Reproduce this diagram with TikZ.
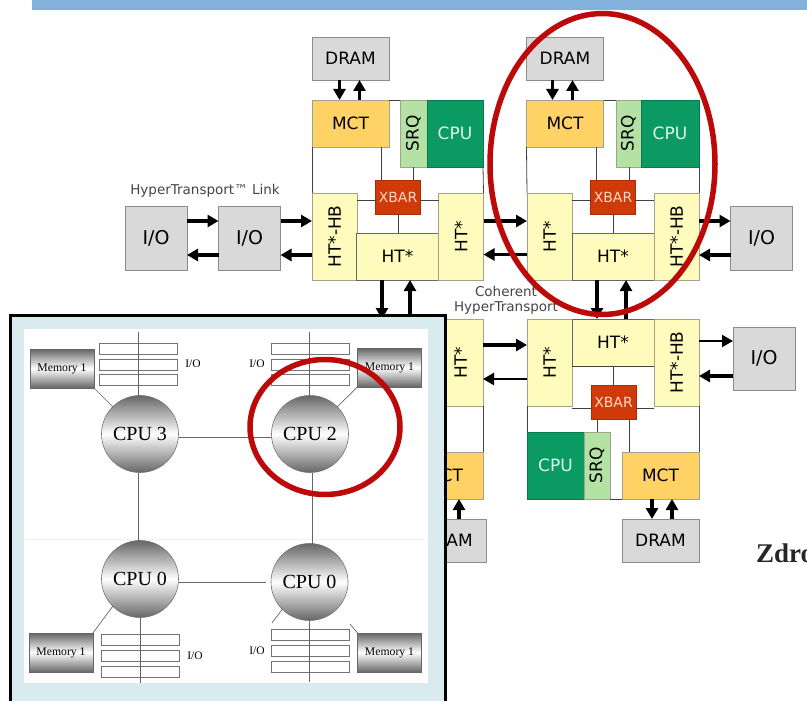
\documentclass[tikz,border=0pt]{standalone}
\usepackage{fontspec}
\setmainfont{DejaVu Sans}
\newfontfamily\panelfont{Liberation Serif}
\usetikzlibrary{calc,arrows.meta}
\definecolor{SlideBlue}{HTML}{82B1DC}
\definecolor{PanelBlue}{HTML}{D9EBEE}
\definecolor{RingRed}{HTML}{BC0A0A}
\definecolor{BoxGray}{HTML}{D9D9D9}
\definecolor{BoxEdge}{HTML}{8C8C8C}
\definecolor{McOrange}{HTML}{FFD266}
\definecolor{SrqGreen}{HTML}{B4E2A4}
\definecolor{CpuGreen}{HTML}{0A9A62}
\definecolor{CpuText}{HTML}{DDF5EE}
\definecolor{XbarRed}{HTML}{D03A08}
\definecolor{XbarText}{HTML}{F8DCC8}
\definecolor{HtYellow}{HTML}{FFFBBC}
\definecolor{HtEdge}{HTML}{A3A38A}
\definecolor{LabelGray}{HTML}{444444}
\tikzset{
  block/.style={draw,outer sep=0pt,inner sep=0pt,font=\fontsize{17}{17}\selectfont,line width=.8pt},
  dram/.style={block,fill=BoxGray,draw=BoxEdge,minimum width=77pt,minimum height=43pt},
  iobox/.style={block,fill=BoxGray,draw=BoxEdge,minimum width=62pt,minimum height=64pt,font=\fontsize{19}{19}\selectfont},
  mct/.style={block,fill=McOrange,draw=HtEdge,minimum width=77pt,minimum height=47pt},
  cpu/.style={block,fill=CpuGreen,draw=CpuGreen!80!black,text=CpuText,minimum height=67pt},
  srq/.style={block,fill=SrqGreen,draw=HtEdge,minimum height=67pt},
  xbar/.style={block,fill=XbarRed,draw=XbarRed!80!black,text=XbarText,minimum width=45pt,minimum height=34pt,font=\fontsize{14}{14}\selectfont},
  htside/.style={block,fill=HtYellow,draw=HtEdge,minimum width=45pt,minimum height=87pt},
  htmid/.style={block,fill=HtYellow,draw=black!60,minimum width=82pt,minimum height=47pt},
  wire/.style={line width=.8pt,black!75},
  bus/.style={line width=3.2pt,-{Triangle[length=11pt,width=12pt]}},
  caption/.style={text=LabelGray,font=\fontsize{13.5}{15}\selectfont,align=center,inner sep=0pt},
  ring/.style={draw=RingRed,line width=5.5pt},
  chip/.style={circle,draw=black!55,line width=.6pt,minimum size=77pt,inner sep=0pt,outer sep=0pt,
    top color=black!60,bottom color=black!60,middle color=white,font=\panelfont\fontsize{20}{20}\selectfont},
  memory/.style={draw=black!60,line width=.6pt,minimum width=64pt,minimum height=39pt,inner sep=0pt,outer sep=0pt,
    top color=black!60,bottom color=black!60,middle color=white,font=\panelfont\fontsize{11.7}{12}\selectfont},
  slot/.style={draw=black!55,fill=white,line width=.6pt,minimum width=78pt,minimum height=11pt,inner sep=0pt,outer sep=0pt},
  iolabel/.style={inner sep=0pt,font=\panelfont\fontsize{11.5}{12}\selectfont},
  link/.style={line width=.7pt,black!60},
}
\begin{document}
\begin{tikzpicture}[x=1pt,y=-1pt,line cap=butt]
  \useasboundingbox (0,0) rectangle (807,701);
  \clip (0,0) rectangle (807,701);
  \fill[SlideBlue] (32,0) rectangle (807,10);
  \node[anchor=base west,inner sep=0pt,text=black!85,font=\panelfont\bfseries\fontsize{27}{27}\selectfont] (source) at (756,562) {Zdro};
  % upper left node
  \begin{scope}
    \node[dram] (dramA) at (350.5,58.5) {DRAM};
    \node[mct] (mctA) at (350.5,123.5) {MCT};
    \node[srq,minimum width=27pt] (srqA) at (413.5,133.5) {\rotatebox{90}{SRQ}};
    \node[cpu,minimum width=56pt] (cpuA) at (455,133.5) {CPU};
    \node[xbar] (xbarA) at (398,197) {XBAR};
    \node[htside] (hbA) at (334.5,236.5) {\rotatebox{90}{HT*-HB}};
    \node[htmid] (htA) at (397.5,256.5) {HT*};
    \node[htside] (hsA) at (461,236.5) {\rotatebox{90}{HT*}};
    \node[iobox] (ioA) at (156,238.5) {I/O};
    \node[iobox] (ioB) at (249.5,238.5) {I/O};
    \node[caption] (linkA) at (205,190.5) {HyperTransport™ Link};
    \draw[bus] ([xshift=-11pt]dramA.south) -- ([xshift=-11pt]mctA.north);
    \draw[bus] ([xshift=9pt]mctA.north) -- ([xshift=9pt]dramA.south);
    \draw[bus] ([yshift=17.5pt]ioA.east) -- ([yshift=17.5pt]ioB.west);
    \draw[bus] ([yshift=-16.5pt]ioB.west) -- ([yshift=-16.5pt]ioA.east);
    \draw[bus] ([yshift=17.5pt]ioB.east) -- ([yshift=17.5pt]ioB.east -| hbA.west);
    \draw[bus] ([yshift=-16.5pt]ioB.east -| hbA.west) -- ([yshift=-16.5pt]ioB.east);
    \draw[wire] (mctA.south west) -- (hbA.north west);
    \draw[wire] (mctA.north east) -- (srqA.north west);
    \draw[wire] ([xshift=-8pt]mctA.south east) -- ([xshift=-8pt]mctA.south east |- xbarA.north);
    \draw[wire] (cpuA.south east) -- (hsA.north east);
    \draw[wire] ([xshift=15pt]xbarA.north) -- ([xshift=15pt]xbarA.north |- srqA.south);
    \draw[wire] ([yshift=-3pt]xbarA.west) -- ([yshift=-3pt]xbarA.west -| hbA.east);
    \draw[wire] ([yshift=-3pt]xbarA.east) -- ([yshift=-3pt]xbarA.east -| hsA.west);
    \draw[wire] (xbarA.south) -- (xbarA.south |- htA.north);
  \end{scope}
  % upper right node
  \begin{scope}
    \node[dram] (dramB) at (565,58.5) {DRAM};
    \node[mct] (mctB) at (565,123.5) {MCT};
    \node[srq,minimum width=25pt] (srqB) at (628.5,133.5) {\rotatebox{90}{SRQ}};
    \node[cpu,minimum width=58pt] (cpuB) at (670,133.5) {CPU};
    \node[xbar] (xbarB) at (613,197) {XBAR};
    \node[htside] (hsB) at (549.5,236.5) {\rotatebox{90}{HT*}};
    \node[htmid] (htB) at (613,256.5) {HT*};
    \node[htside] (hbB) at (676.5,236.5) {\rotatebox{90}{HT*-HB}};
    \node[iobox] (ioE) at (761.5,238) {I/O};
    \draw[bus] ([xshift=-12.5pt]dramB.south) -- ([xshift=-12.5pt]mctB.north);
    \draw[bus] ([xshift=7.5pt]mctB.north) -- ([xshift=7.5pt]dramB.south);
    \draw[bus] ([yshift=15.5pt]hsA.east) -- ([yshift=15.5pt]hsB.west);
    \draw[bus] ([yshift=-18pt]hsB.west) -- ([yshift=-18pt]hsA.east);
    \draw[bus] ([yshift=17pt]ioE.west -| hbB.east) -- ([yshift=17pt]ioE.west);
    \draw[bus] ([yshift=-17pt]ioE.west) -- ([yshift=-17pt]ioE.west -| hbB.east);
    \draw[wire] (mctB.south west) -- (hsB.north west);
    \draw[wire] (mctB.north east) -- (srqB.north west);
    \draw[wire] ([xshift=-7pt]mctB.south east) -- ([xshift=-7pt]mctB.south east |- xbarB.north);
    \draw[wire] (cpuB.south east) -- (hbB.north east);
    \draw[wire] ([xshift=16pt]xbarB.north) -- ([xshift=16pt]xbarB.north |- srqB.south);
    \draw[wire] ([yshift=-3pt]xbarB.west) -- ([yshift=-3pt]xbarB.west -| hsB.east);
    \draw[wire] ([yshift=-3pt]xbarB.east) -- ([yshift=-3pt]xbarB.east -| hbB.west);
    \draw[wire] (xbarB.south) -- (xbarB.south |- htB.north);
  \end{scope}
  % lower left node, mostly under the panel
  \begin{scope}
    \node[htmid] (htC) at (397.5,342.5) {HT*};
    \node[htside] (hsC) at (460.5,362.5) {\rotatebox{90}{HT*}};
    \node[mct] (mctC) at (444.5,475.5) {MCT};
    \node[dram] (dramC) at (447.5,540.5) {DRAM};
    \draw[bus] ([xshift=11.5pt]dramC.north) -- ([xshift=11.5pt]dramC.north |- mctC.south);
    \draw[wire] (hsC.south east) -- (mctC.north east);
    \draw[bus] ([xshift=-15.5pt]htA.south) -- ([xshift=-15.5pt]htC.north);
    \draw[bus] ([xshift=12.5pt]htC.north) -- ([xshift=12.5pt]htA.south);
  \end{scope}
  % lower right node
  \begin{scope}
    \node[htside] (hsD) at (549.5,362.5) {\rotatebox{90}{HT*}};
    \node[htmid] (htD) at (613,342.5) {HT*};
    \node[htside] (hbD) at (676.5,362.5) {\rotatebox{90}{HT*-HB}};
    \node[xbar] (xbarD) at (613.5,402) {XBAR};
    \node[cpu,minimum width=57pt] (cpuD) at (555.5,465.5) {CPU};
    \node[srq,minimum width=26pt] (srqD) at (597,465.5) {\rotatebox{90}{SRQ}};
    \node[mct] (mctD) at (660.5,475.5) {MCT};
    \node[dram] (dramD) at (660.5,540.5) {DRAM};
    \node[iobox,minimum height=63pt] (ioF) at (764,358.5) {I/O};
    \node[caption] (linkB) at (506,300.5) {Coherent\\HyperTransport};
    \draw[bus] ([xshift=-16pt]htB.south) -- ([xshift=-16pt]htD.north);
    \draw[bus] ([xshift=13pt]htD.north) -- ([xshift=13pt]htB.south);
    \draw[bus] ([yshift=17.5pt]hsC.east) -- ([yshift=17.5pt]hsD.west);
    \draw[bus,line width=2.2pt] ([yshift=-16.5pt]hsD.west) -- ([yshift=-16.5pt]hsC.east);
    \draw[bus,line width=2.2pt] ([yshift=17.5pt]ioF.west -| hbD.east) -- ([yshift=17.5pt]ioF.west);
    \draw[bus] ([yshift=-17.5pt]ioF.west) -- ([yshift=-17.5pt]ioF.west -| hbD.east);
    \draw[bus] ([xshift=-8.5pt]mctD.south) -- ([xshift=-8.5pt]dramD.north);
    \draw[bus] ([xshift=11.5pt]dramD.north) -- ([xshift=11.5pt]mctD.south);
    \draw[wire] (hsD.south west) -- (cpuD.north west);
    \draw[wire] (hbD.south east) -- (mctD.north east);
    \draw[wire] (srqD.south east) -- (mctD.south west);
    \draw[wire] ([xshift=6pt]xbarD.south west) -- ([xshift=6pt]xbarD.south west |- srqD.north);
    \draw[wire] ([xshift=-7pt]xbarD.south east) -- ([xshift=-7pt]xbarD.south east |- mctD.north);
    \draw[wire] ([yshift=-6pt]xbarD.west) -- ([yshift=-6pt]xbarD.west -| hsD.east);
    \draw[wire] ([yshift=-6pt]xbarD.east) -- ([yshift=-6pt]xbarD.east -| hbD.west);
    \draw[wire] (xbarD.north) -- (xbarD.north |- htD.south);
    \draw[wire] (htD.south west) -- (htD.south east);
  \end{scope}
  % four socket panel
  \node[draw=black,line width=3pt,fill=PanelBlue,minimum width=435pt,minimum height=410pt,outer sep=0pt] (panel) at (227.5,520) {};
  \node[fill=white,minimum width=404pt,minimum height=354pt,inner sep=0pt,outer sep=0pt] (sheet) at (226,506) {};
  \draw[PanelBlue!50,line width=.5pt] ([yshift=-33pt]sheet.west) -- ([yshift=-33pt]sheet.east);
  \node[chip] (chipC) at (140,434) {CPU 3};
  \node[chip] (chipD) at (310,434) {CPU 2};
  \node[chip] (chipA) at (140,579) {CPU 0};
  \node[chip] (chipB) at (309.5,582) {CPU 0};
  \node[memory] (memA) at (62,368.5) {Memory 1};
  \node[memory] (memB) at (389.5,367.5) {Memory 1};
  \node[memory] (memC) at (61,652.5) {Memory 1};
  \node[memory] (memD) at (389.5,652.5) {Memory 1};
  \node[iolabel] (labA) at (193,364) {I/O};
  \node[iolabel] (labB) at (257,364) {I/O};
  \node[iolabel] (labC) at (195,656) {I/O};
  \node[iolabel] (labD) at (257,651) {I/O};
  \foreach \n/\y in {a/348.5,b/364.5,c/380} {
    \node[slot] (slotA\n) at (138,\y) {};
    \node[slot] (slotB\n) at (310,\y) {};
  }
  \foreach \n/\y in {a/640,b/656,c/672} {
    \node[slot] (slotC\n) at (140,\y) {};
  }
  \foreach \n/\y in {a/634.5,b/650.5,c/666.5} {
    \node[slot] (slotD\n) at (310,\y) {};
  }
  \coordinate (tailA) at (138,332); \coordinate (tailB) at (309.5,332);
  \coordinate (tailC) at (140.5,683); \coordinate (tailD) at (309.5,682);
  \coordinate (stubA) at (272,623); \coordinate (stubB) at (350,624);
  \draw[link] (tailA) -- (tailA |- chipC.north);
  \draw[link] (tailB) -- (tailB |- chipD.north);
  \draw[link] (tailC) -- (tailC |- chipA.south);
  \draw[link] (tailD) -- (tailD |- chipB.south);
  \draw[link] ([yshift=-3pt]chipC.east) -- ([yshift=-3pt]chipD.west);
  \draw[link] ([yshift=-3pt]chipA.east) -- ([xshift=-5pt]chipB.west);
  \draw[link] ([xshift=-2pt]chipC.south) -- ([xshift=-2pt]chipA.north);
  \draw[link] ([xshift=2pt]chipD.south) -- ([xshift=2pt]chipD.south |- chipB.north);
  \draw[link] (memA.south east) -- (chipC.135);
  \draw[link] (memB.south west) -- (chipD.45);
  \draw[link] (memC.north east) -- (chipA.225);
  \draw[link] (chipB.225) -- (stubA);
  \draw[link] (memD.north west) -- (stubB);
  % highlight rings
  \draw[ring] (602.5,164) ellipse[x radius=112.5pt,y radius=150.5pt];
  \draw[ring] (325,427) ellipse[x radius=75pt,y radius=67.5pt];
\end{tikzpicture}
\end{document}
